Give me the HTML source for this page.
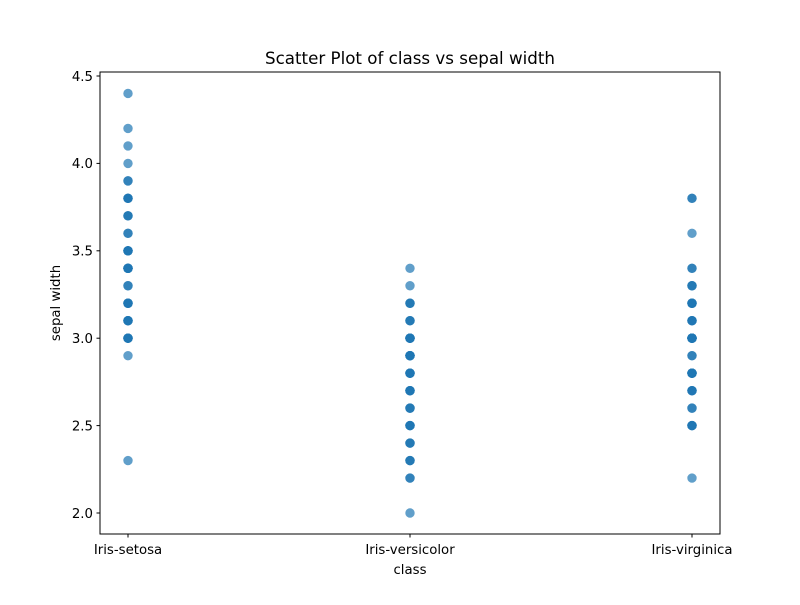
<!DOCTYPE html>
<html><head><meta charset="utf-8"><style>
body{margin:0;background:#fff;}
svg text{font-family:"DejaVu Sans","Liberation Sans",sans-serif;}
</style></head><body>
<svg id="chart" width="800" height="600">
<rect width="800" height="600" fill="#fff"/>
<text x="410" y="64" font-size="16.7" text-anchor="middle">Scatter Plot of class vs sepal width</text>
<g id="ticks"></g>
<g id="points"></g>
<rect x="100" y="72" width="620" height="462" fill="none" stroke="#000" stroke-width="1"/>
<text x="410" y="574" font-size="13.3" text-anchor="middle">class</text>
<text x="0" y="0" font-size="13.3" text-anchor="middle" transform="translate(60,303) rotate(-90)">sepal width</text>
</svg>
<script>
const categories=["Iris-setosa","Iris-versicolor","Iris-virginica"];
const setosa=[3.5,3.0,3.2,3.1,3.6,3.9,3.4,3.4,2.9,3.1,3.7,3.4,3.0,3.0,4.0,4.4,3.9,3.5,3.8,3.8,3.4,3.7,3.6,3.3,3.4,3.0,3.4,3.5,3.4,3.2,3.1,3.4,4.1,4.2,3.1,3.2,3.5,3.1,3.0,3.4,3.5,2.3,3.2,3.5,3.8,3.0,3.8,3.2,3.7,3.3];
const versicolor=[3.2,3.2,3.1,2.3,2.8,2.8,3.3,2.4,2.9,2.7,2.0,3.0,2.2,2.9,2.9,3.1,3.0,2.7,2.2,2.5,3.2,2.8,2.5,2.8,2.9,3.0,2.8,3.0,2.9,2.6,2.4,2.4,2.7,2.7,3.0,3.4,3.1,2.3,3.0,2.5,2.6,3.0,2.6,2.3,2.7,3.0,2.9,2.9,2.5,2.8];
const virginica=[3.3,2.7,3.0,2.9,3.0,3.0,2.5,2.9,2.5,3.6,3.2,2.7,3.0,2.5,2.8,3.2,3.0,3.8,2.6,2.2,3.2,2.8,2.8,2.7,3.3,3.2,2.8,3.0,2.8,3.0,2.8,3.8,2.8,2.8,2.6,3.0,3.4,3.1,3.0,3.1,3.1,3.1,2.7,3.2,3.3,3.0,2.5,3.0,3.4,3.0];
const yTicks=[2.0,2.5,3.0,3.5,4.0,4.5];
const yTickLabels=["2.0","2.5","3.0","3.5","4.0","4.5"];
const NS="http://www.w3.org/2000/svg";
function xScale(i){return 128+i*282;}
function yScale(v){return 513-(v-2.0)*174.8;}
const tg=document.getElementById('ticks');
function mk(tag,attrs,parent){const e=document.createElementNS(NS,tag);for(const k in attrs)e.setAttribute(k,attrs[k]);parent.appendChild(e);return e;}
yTicks.forEach((v,i)=>{
  const y=yScale(v);
  const l=mk('line',{x1:96.5,x2:100,y1:y,y2:y,stroke:'#000'},tg);
  
  
  const t=mk('text',{x:93,y:y+4.8,'font-size':13.3,'text-anchor':'end'},tg);
  t.textContent=yTickLabels[i];
  
  
});
categories.forEach((c,i)=>{
  const x=xScale(i);
  const l=mk('line',{x1:x,x2:x,y1:534,y2:537.5,stroke:'#000'},tg);
  
  
  const t=mk('text',{x:x,y:554,'font-size':13.3,'text-anchor':'middle'},tg);
  t.textContent=c;
  
  
});
const pg=document.getElementById('points');
[setosa,versicolor,virginica].forEach((arr,i)=>{
  arr.forEach(v=>{
    const p=mk('circle',{cx:xScale(i),cy:yScale(v),r:4.2,fill:'#1f77b4',stroke:'#1f77b4','stroke-width':1,opacity:0.7},pg);
    
    
  });
});
</script>
</body></html>
